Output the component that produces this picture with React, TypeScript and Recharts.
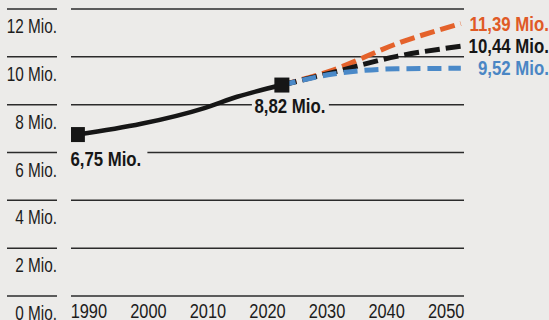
import React from "react";
import { LineChart, Line, XAxis, YAxis, CartesianGrid, LabelList } from "recharts";

// ---- data ----
const histYears = [1990, 2000, 2010, 2015, 2022];
const histValues = [6.75, 7.2, 7.87, 8.33, 8.82];
const markerYears = [1990, 2022];
const projYears = [2022, 2030, 2040, 2050];
const lowValues = [8.82, 9.28, 9.5, 9.52];
const refValues = [8.82, 9.35, 10.02, 10.44];
const highValues = [8.82, 9.45, 10.55, 11.39];
const yTicks = [0, 2, 4, 6, 8, 10, 12];
const xTicks = [1990, 2000, 2010, 2020, 2030, 2040, 2050];

const allYears = Array.from(new Set([...histYears, ...projYears])).sort((a, b) => a - b);
const data = allYears.map((year) => {
  const hi = histYears.indexOf(year);
  const pi = projYears.indexOf(year);
  return {
    year,
    hist: hi >= 0 ? histValues[hi] : undefined,
    low: pi >= 0 ? lowValues[pi] : undefined,
    ref: pi >= 0 ? refValues[pi] : undefined,
    high: pi >= 0 ? highValues[pi] : undefined,
  };
});
const histRows = data.filter((d) => d.hist !== undefined);

const BG = "#ecebe9";
const FONT = '"Liberation Sans", Arial, sans-serif';
const ORANGE = "#e4622b";
const BLACK = "#161616";
const BLUE = "#4a89c8";
const GRID = "#2b2b2b";

const fmt = (v: number) => v.toFixed(2).replace(".", ",") + " Mio.";

const NText = (p: any) => (
  <text
    transform={`translate(${p.x} ${p.y}) scale(${p.sx ?? 0.76} 1)`}
    x={0}
    y={0}
    textAnchor={p.anchor ?? "start"}
    fontFamily={FONT}
    fontSize={p.size ?? 21}
    fontWeight={p.bold ? "bold" : "normal"}
    fill={p.fill ?? "#1c1c1c"}
  >
    {p.children}
  </text>
);

const YTick = (props: any) => {
  const { x, y, payload } = props;
  return (
    <g>
      <line x1={x - 64} x2={x - 14} y1={y} y2={y} stroke={GRID} strokeWidth={1.5} />
      <NText x={x - 14} y={y + 24} anchor="end" sx={0.73}>
        {`${payload.value} Mio.`}
      </NText>
    </g>
  );
};

const XTick = (props: any) => {
  const { x, y, payload } = props;
  return (
    <NText x={x} y={y - 8} anchor="middle" sx={0.78}>
      {payload.value}
    </NText>
  );
};

const MarkerDot = (props: any) => {
  const { cx, cy, payload, index } = props;
  if (cx == null || cy == null || !markerYears.includes(payload.year)) return <g key={`d${index}`} />;
  return <rect key={`d${index}`} x={cx - 7.5} y={cy - 7.5} width={15} height={15} fill={BLACK} />;
};

const HistLabel = (props: any) => {
  const { x, y, value, index } = props;
  const year = histRows[index]?.year;
  if (value == null || !markerYears.includes(year)) return null;
  if (year === markerYears[0]) {
    return (
      <g>
        <rect x={x - 10} y={y + 15} width={80} height={19} fill={BG} />
        <NText x={x - 7} y={y + 31} bold sx={0.8} fill={BLACK}>
          {fmt(value)}
        </NText>
      </g>
    );
  }
  return (
    <g>
      <rect x={x - 30} y={y + 12} width={77} height={19} fill={BG} />
      <NText x={x + 8} y={y + 28} anchor="middle" bold sx={0.8} fill={BLACK}>
        {fmt(value)}
      </NText>
    </g>
  );
};

const makeEndLabel = (color: string) => (props: any) => {
  const { x, y, value, index } = props;
  if (value == null || index !== data.length - 1) return null;
  return (
    <NText x={x + 88} y={y + 7} anchor="end" bold sx={0.8} fill={color}>
      {fmt(value)}
    </NText>
  );
};

export default function App() {
  return (
    <div style={{ position: "absolute", left: 0, top: 0, width: 549, height: 320, background: BG }}>
      <LineChart width={549} height={320} data={data} margin={{ top: 9, right: 85, bottom: 0, left: 0 }}>
        <CartesianGrid horizontal vertical={false} stroke={GRID} strokeWidth={1.5} xAxisId="data" />
        <XAxis
          xAxisId="ticks"
          type="number"
          dataKey="year"
          domain={[1987, 2053]}
          allowDataOverflow
          ticks={xTicks}
          height={24}
          axisLine={false}
          tickLine={false}
          tickSize={0}
          tickMargin={0}
          tick={<XTick />}
          interval={0}
        />
        <XAxis xAxisId="data" type="number" dataKey="year" domain={[1989, 2050.5]} allowDataOverflow hide />
        <YAxis
          type="number"
          domain={[0, 12]}
          ticks={yTicks}
          width={71}
          axisLine={false}
          tickLine={false}
          tickSize={0}
          tickMargin={0}
          tick={<YTick />}
          interval={0}
        />
        <Line xAxisId="data" type="monotone" dataKey="high" stroke={ORANGE} strokeWidth={5} strokeDasharray="15 6" dot={false} isAnimationActive={false}>
          <LabelList dataKey="high" content={makeEndLabel("#e05a26")} />
        </Line>
        <Line xAxisId="data" type="monotone" dataKey="ref" stroke={BLACK} strokeWidth={5} strokeDasharray="15 6" dot={false} isAnimationActive={false}>
          <LabelList dataKey="ref" content={makeEndLabel(BLACK)} />
        </Line>
        <Line xAxisId="data" type="monotone" dataKey="low" stroke={BLUE} strokeWidth={5} strokeDasharray="14 7" dot={false} isAnimationActive={false}>
          <LabelList dataKey="low" content={makeEndLabel("#4a86c4")} />
        </Line>
        <Line xAxisId="data" type="monotone" dataKey="hist" stroke={BLACK} strokeWidth={4.5} dot={<MarkerDot />} isAnimationActive={false}>
          <LabelList dataKey="hist" content={<HistLabel />} />
        </Line>
      </LineChart>
    </div>
  );
}
